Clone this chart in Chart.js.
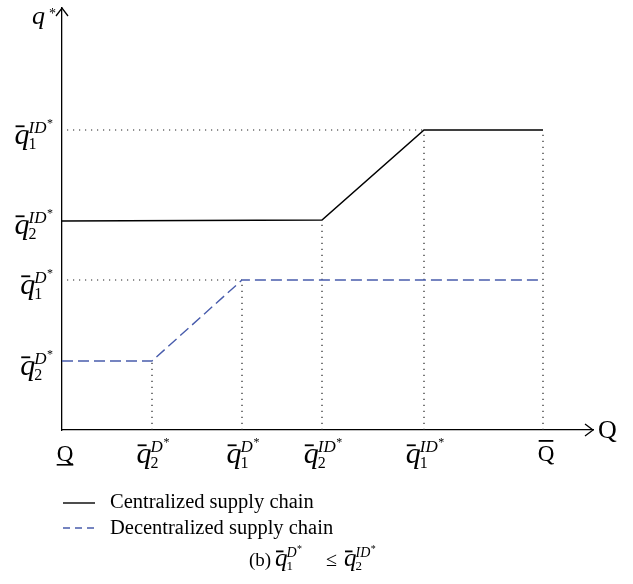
<!DOCTYPE html>
<html>
<head>
<meta charset="utf-8">
<script src="https://cdn.jsdelivr.net/npm/chart.js@4.4.1/dist/chart.umd.min.js"></script>
<style>
  html, body { margin: 0; padding: 0; background: #fff; }
  #wrap { width: 633px; height: 584px; }
</style>
</head>
<body>
<div id="wrap"><canvas id="graphs" width="633" height="584"></canvas></div>
<script>
// x positions of the marked Q values (arbitrary units along the Q axis)
const xTicks = [0, 90, 180, 260, 362, 481];
// tick labels: [base, subscript, superscript]
const xTickLabels = [
  ['Q_', '', ''],
  ['q', '2', 'D'],
  ['q', '1', 'D'],
  ['q', '2', 'ID'],
  ['q', '1', 'ID'],
  ['Q-', '', '']
];
const yTicks = [300, 210, 150, 69];
const yTickLabels = [
  ['q', '1', 'ID'],
  ['q', '2', 'ID'],
  ['q', '1', 'D'],
  ['q', '2', 'D']
];

const centralizedX = [0, 260, 362, 481];
const centralizedY = [209, 210, 300, 300];
const decentralizedX = [0, 90, 180, 481];
const decentralizedY = [69, 69, 150, 150];

// dotted guides
const guideVX = [90, 180, 260, 362, 481];
const guideVTop = [69, 150, 210, 300, 300];
const guideHY = [300, 150];
const guideHEnd = [362, 180];

const seriesNames = ['Centralized supply chain', 'Decentralized supply chain'];

const SERIF = "'Liberation Serif', 'DejaVu Serif', serif";
const blue = 'rgb(72, 92, 172)';

function pts(xs, ys) {
  return xs.map((x, i) => ({ x: x, y: ys[i] }));
}

let datasets = [
  {
    label: seriesNames[0],
    data: pts(centralizedX, centralizedY),
    borderColor: '#000',
    borderWidth: 1.5,
    order: 0
  },
  {
    label: seriesNames[1],
    data: pts(decentralizedX, decentralizedY),
    borderColor: blue,
    borderWidth: 1.4,
    borderDash: [11, 5],
    order: 1
  }
];
guideVX.forEach((x, i) => {
  datasets.push({
    label: 'guide',
    data: [{ x: x, y: 0 }, { x: x, y: guideVTop[i] }],
    borderColor: '#222',
    borderWidth: 1.2,
    borderDash: [1.2, 4.8],
    order: 5
  });
});
guideHY.forEach((y, i) => {
  datasets.push({
    label: 'guide',
    data: [{ x: 5, y: y }, { x: guideHEnd[i], y: y }],
    borderColor: '#222',
    borderWidth: 1.2,
    borderDash: [1.2, 4.8],
    order: 5
  });
});

// q with bar, subscript and starred superscript; returns width
function qLabel(ctx, x, B, sub, sup, s, draw) {
  ctx.font = 'italic ' + s + 'px ' + SERIF;
  const qw = ctx.measureText('q').width;
  const subFont = Math.round(0.52 * s) + 'px ' + SERIF;
  const supFont = 'italic ' + Math.round(0.55 * s) + 'px ' + SERIF;
  const starFont = Math.round(0.4 * s) + 'px ' + SERIF;
  ctx.font = subFont;
  const subW = ctx.measureText(sub).width;
  ctx.font = supFont;
  const supW = ctx.measureText(sup).width;
  ctx.font = starFont;
  const starW = ctx.measureText('*').width;
  const off = qw - 1;
  if (draw) {
    ctx.textAlign = 'left';
    ctx.textBaseline = 'alphabetic';
    ctx.font = 'italic ' + s + 'px ' + SERIF;
    ctx.fillText('q', x, B);
    ctx.fillRect(x + 1, B - 0.62 * s, 0.3 * s, 1.8);
    ctx.font = subFont;
    ctx.fillText(sub, x + off, B + 0.15 * s);
    ctx.font = supFont;
    ctx.fillText(sup, x + off, B - 0.36 * s);
    ctx.font = starFont;
    ctx.fillText('*', x + off + supW + 0.5, B - 0.56 * s);
  }
  return off + Math.max(subW, supW + starW + 0.5);
}

const decorations = {
  id: 'decorations',
  afterDraw(chart) {
    const ctx = chart.ctx;
    const xs = chart.scales.x, ys = chart.scales.y;
    const a = chart.chartArea;
    ctx.save();
    ctx.fillStyle = '#000';
    ctx.strokeStyle = '#000';
    ctx.lineWidth = 1.3;
    // arrow heads
    ctx.beginPath();
    ctx.moveTo(a.left - 6, a.top + 8);
    ctx.lineTo(a.left, a.top);
    ctx.lineTo(a.left + 6, a.top + 8);
    ctx.moveTo(a.right - 8, a.bottom - 6);
    ctx.lineTo(a.right, a.bottom);
    ctx.lineTo(a.right - 8, a.bottom + 6);
    ctx.stroke();

    // axis names
    ctx.font = 'italic 26px ' + SERIF;
    ctx.textAlign = 'left';
    ctx.fillText('q', a.left - 30, a.top + 16);
    ctx.font = '14px ' + SERIF;
    ctx.fillText('*', a.left - 13, a.top + 10);
    ctx.font = '26px ' + SERIF;
    ctx.fillText('Q', a.right + 5, a.bottom + 8);

    // x tick labels
    const xB = a.bottom + 33;
    xTicks.forEach((v, i) => {
      const px = xs.getPixelForValue(v);
      const lab = xTickLabels[i];
      if (lab[0] === 'Q_' || lab[0] === 'Q-') {
        ctx.font = '23px ' + SERIF;
        ctx.textAlign = 'center';
        const w = ctx.measureText('Q').width;
        const cx = px + 3;
        ctx.fillText('Q', cx, xB - 2);
        if (lab[0] === 'Q_') ctx.fillRect(cx - w / 2, xB + 1, w, 1.6);
        else ctx.fillRect(cx - w / 2 + 1, xB - 23, w - 2, 1.8);
      } else {
        const w = qLabel(ctx, 0, 0, lab[1], lab[2], 30, false);
        qLabel(ctx, px + 1 - w / 2, xB, lab[1], lab[2], 30, true);
      }
    });

    // y tick labels
    yTicks.forEach((v, i) => {
      const py = ys.getPixelForValue(v);
      const lab = yTickLabels[i];
      const w = qLabel(ctx, 0, 0, lab[1], lab[2], 30, false);
      qLabel(ctx, a.left - 9 - w, py + 14, lab[1], lab[2], 30, true);
    });

    // legend
    ctx.lineWidth = 1.4;
    ctx.beginPath();
    ctx.moveTo(63, 503);
    ctx.lineTo(95, 503);
    ctx.stroke();
    ctx.strokeStyle = blue;
    ctx.setLineDash([7, 5]);
    ctx.beginPath();
    ctx.moveTo(63, 528);
    ctx.lineTo(97, 528);
    ctx.stroke();
    ctx.setLineDash([]);
    ctx.font = '20.5px ' + SERIF;
    ctx.textAlign = 'left';
    ctx.fillText(seriesNames[0], 110, 508);
    ctx.fillText(seriesNames[1], 110, 534);

    // caption
    ctx.font = '19px ' + SERIF;
    ctx.fillText('(b)', 249, 566);
    qLabel(ctx, 275, 566, '1', 'D', 25, true);
    ctx.font = '20px ' + SERIF;
    ctx.fillText('\u2264', 326, 566);
    qLabel(ctx, 344, 566, '2', 'ID', 25, true);
    ctx.restore();
  }
};

let config = {
  type: 'scatter',
  data: { datasets: datasets },
  options: {
    responsive: false,
    animation: false,
    showLine: true,
    elements: {
      point: { radius: 0, hoverRadius: 0 },
      line: { tension: 0 }
    },
    layout: { padding: { left: 62, top: 8, right: 40, bottom: 154 } },
    scales: {
      x: {
        type: 'linear',
        min: 0,
        max: 531,
        ticks: { display: false },
        grid: { display: false, drawTicks: false },
        border: { display: true, color: '#000', width: 1.3 }
      },
      y: {
        type: 'linear',
        min: 0,
        max: 422,
        ticks: { display: false },
        grid: { display: false, drawTicks: false },
        border: { display: true, color: '#000', width: 1.3 }
      }
    },
    plugins: {
      legend: { display: false },
      tooltip: { enabled: false }
    }
  },
  plugins: [decorations]
};

window.onload = function() {
  let ctx = document.querySelector('#graphs').getContext('2d');
  window.myChart = new Chart(ctx, config);
};
</script>
</body>
</html>
